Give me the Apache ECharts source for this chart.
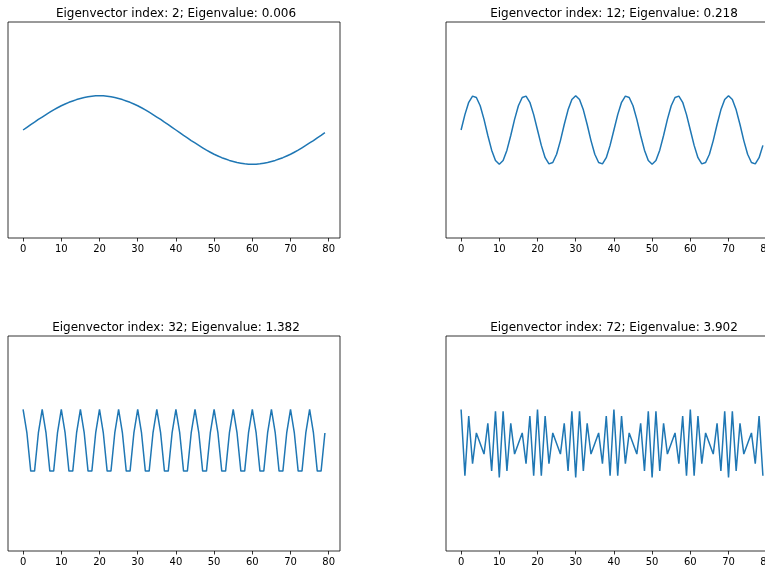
<!DOCTYPE html>
<html>
<head>
<meta charset="utf-8">
<script src="https://cdn.jsdelivr.net/npm/echarts@6/dist/echarts.min.js"></script>
<style>html,body{margin:0;padding:0;background:#fff}#c{width:765px;height:569px}</style>
</head>
<body>
<div id="c"></div>
<script>
const xTicks = [0, 10, 20, 30, 40, 50, 60, 70, 80];
const titles = [
  'Eigenvector index: 2; Eigenvalue: 0.006',
  'Eigenvector index: 12; Eigenvalue: 0.218',
  'Eigenvector index: 32; Eigenvalue: 1.382',
  'Eigenvector index: 72; Eigenvalue: 3.902'
];
const vec2 = [0, 0.08, 0.16, 0.23, 0.31, 0.38, 0.45, 0.52, 0.59, 0.65, 0.71, 0.76, 0.81, 0.85, 0.89, 0.92, 0.95, 0.97, 0.99, 1.00,
  1.00, 1.00, 0.99, 0.97, 0.95, 0.92, 0.89, 0.85, 0.81, 0.76, 0.71, 0.65, 0.59, 0.52, 0.45, 0.38, 0.31, 0.23, 0.16, 0.08,
  0, -0.08, -0.16, -0.23, -0.31, -0.38, -0.45, -0.52, -0.59, -0.65, -0.71, -0.76, -0.81, -0.85, -0.89, -0.92, -0.95, -0.97, -0.99, -1.00,
  -1.00, -1.00, -0.99, -0.97, -0.95, -0.92, -0.89, -0.85, -0.81, -0.76, -0.71, -0.65, -0.59, -0.52, -0.45, -0.38, -0.31, -0.23, -0.16, -0.08];
const vec12 = [0, 0.45, 0.81, 0.99, 0.95, 0.71, 0.31, -0.16, -0.59, -0.89, -1, -0.89, -0.59, -0.16, 0.31, 0.71, 0.95, 0.99, 0.81, 0.45,
  0, -0.45, -0.81, -0.99, -0.95, -0.71, -0.31, 0.16, 0.59, 0.89, 1, 0.89, 0.59, 0.16, -0.31, -0.71, -0.95, -0.99, -0.81, -0.45,
  0, 0.45, 0.81, 0.99, 0.95, 0.71, 0.31, -0.16, -0.59, -0.89, -1, -0.89, -0.59, -0.16, 0.31, 0.71, 0.95, 0.99, 0.81, 0.45,
  0, -0.45, -0.81, -0.99, -0.95, -0.71, -0.31, 0.16, 0.59, 0.89, 1, 0.89, 0.59, 0.16, -0.31, -0.71, -0.95, -0.99, -0.81, -0.45];
const vec32 = [1, 0.31, -0.81, -0.81, 0.31, 1, 0.31, -0.81, -0.81, 0.31, 1, 0.31, -0.81, -0.81, 0.31, 1, 0.31, -0.81, -0.81, 0.31,
  1, 0.31, -0.81, -0.81, 0.31, 1, 0.31, -0.81, -0.81, 0.31, 1, 0.31, -0.81, -0.81, 0.31, 1, 0.31, -0.81, -0.81, 0.31,
  1, 0.31, -0.81, -0.81, 0.31, 1, 0.31, -0.81, -0.81, 0.31, 1, 0.31, -0.81, -0.81, 0.31, 1, 0.31, -0.81, -0.81, 0.31,
  1, 0.31, -0.81, -0.81, 0.31, 1, 0.31, -0.81, -0.81, 0.31, 1, 0.31, -0.81, -0.81, 0.31, 1, 0.31, -0.81, -0.81, 0.31];
const vec72 = [1, -0.95, 0.81, -0.59, 0.31, 0, -0.31, 0.59, -0.81, 0.95, -1, 0.95, -0.81, 0.59, -0.31, 0, 0.31, -0.59, 0.81, -0.95,
  1, -0.95, 0.81, -0.59, 0.31, 0, -0.31, 0.59, -0.81, 0.95, -1, 0.95, -0.81, 0.59, -0.31, 0, 0.31, -0.59, 0.81, -0.95,
  1, -0.95, 0.81, -0.59, 0.31, 0, -0.31, 0.59, -0.81, 0.95, -1, 0.95, -0.81, 0.59, -0.31, 0, 0.31, -0.59, 0.81, -0.95,
  1, -0.95, 0.81, -0.59, 0.31, 0, -0.31, 0.59, -0.81, 0.95, -1, 0.95, -0.81, 0.59, -0.31, 0, 0.31, -0.59, 0.81, -0.95];
const vectors = [vec2, vec12, vec32, vec72];

const font = 'DejaVu Sans';
const grids = [
  {left: 8, top: 22, width: 332, height: 216},
  {left: 446, top: 22, width: 332, height: 216},
  {left: 8, top: 336, width: 332, height: 215},
  {left: 446, top: 336, width: 332, height: 215}
];
const option = {
  animation: false,
  backgroundColor: '#fff',
  title: grids.map((g, i) => ({
    text: titles[i],
    left: g.left + g.width / 2 - 3,
    top: g.top - 19,
    textAlign: 'center',
    textStyle: {fontFamily: font, fontSize: 12, fontWeight: 'normal', color: '#000'}
  })),
  grid: grids.map(g => Object.assign({show: true, outerBoundsMode: 'none', containLabel: false, borderColor: '#000', borderWidth: 0.8, backgroundColor: 'transparent'}, g)),
  xAxis: grids.map((g, i) => ({
    type: 'value', gridIndex: i, min: -3.95, max: 82.95, position: 'bottom',
    splitLine: {show: false},
    axisLine: {show: false, onZero: false},
    axisTick: {show: true, length: 3.5, lineStyle: {color: '#000', width: 0.8}, customValues: xTicks},
    axisLabel: {show: true, margin: 6, fontFamily: font, fontSize: 10, color: '#000', customValues: xTicks}
  })),
  yAxis: grids.map((g, i) => ({
    type: 'value', gridIndex: i, min: -3.16, max: 3.16, show: false
  })),
  series: vectors.map((v, i) => ({
    type: 'line', xAxisIndex: i, yAxisIndex: i,
    showSymbol: false, symbol: 'none',
    lineStyle: {color: '#1f77b4', width: 1.5},
    data: v.map((y, k) => [k, y])
  }))
};
const chart = echarts.init(document.getElementById('c'), null, {renderer: 'canvas'});
chart.setOption(option);
</script>
</body>
</html>
